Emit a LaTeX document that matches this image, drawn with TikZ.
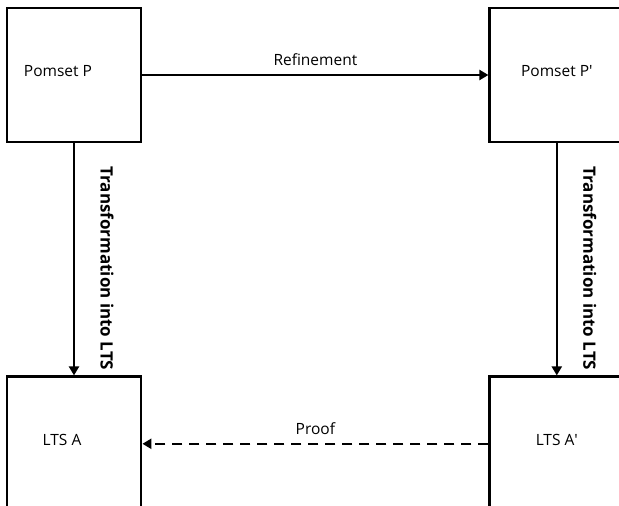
\documentclass[tikz,border=0pt]{standalone}
\usepackage{fontspec}
\setmainfont{Open Sans}
\usetikzlibrary{positioning, arrows.meta}
\tikzset{
  stage/.style={draw, line width=2.8pt, minimum width=134pt, minimum height=134pt, inner sep=0pt},
  stagetext/.style={font=\fontsize{15.5}{18}\selectfont},
  flow/.style={-{Triangle[length=9pt, width=10pt]}, line width=2.3pt},
  proofflow/.style={flow, dash pattern=on 10pt off 7pt},
  translabel/.style={font=\bfseries\fontsize{17}{20}\selectfont}
}

\begin{document}
\begin{tikzpicture}[node distance=232pt and 346pt]
        \useasboundingbox (0,0) rectangle (619pt,506pt);
        \clip (0,0) rectangle (619pt,506pt);
        \node[stage, label={[stagetext, name=ptext, xshift=-16pt, yshift=4pt]center:Pomset P}] (p) at (74pt,431pt) {};
        \node[stage, right=of p, label={[stagetext, name=pptext, yshift=4pt]center:Pomset P\textquotesingle}] (pp) {};
        \node[stage, below=of p, label={[stagetext, name=atext, xshift=-12pt, yshift=4pt]center:LTS A}] (a) {};
        \node[stage, below=of pp, label={[stagetext, name=aatext, yshift=4pt]center:LTS A\textquotesingle}] (aa) {};
        \draw[flow] (p) -- node[stagetext, above=5pt] (refine) {Refinement} (pp);
        \draw[flow] (p) -- node[translabel, xshift=33pt, yshift=-9pt, rotate=-90] (ltrans) {Transformation into LTS} (a);
        \draw[flow] (pp) -- node[translabel, xshift=33pt, yshift=-9pt, rotate=-90] (rtrans) {Transformation into LTS} (aa);
        \draw[proofflow] (aa) -- node[stagetext, above=5pt] (proof) {Proof} (a);
      \end{tikzpicture}
\end{document}
